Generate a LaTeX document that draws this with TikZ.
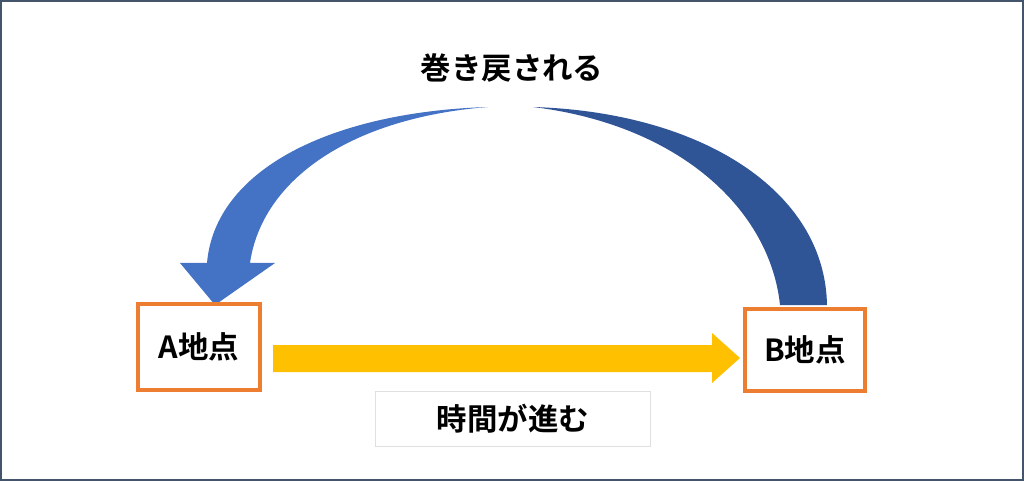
\documentclass[tikz,border=0pt]{standalone}
\usepackage{fontspec}
\newfontfamily\cjk{Noto Sans CJK JP}[BoldFont={Noto Sans CJK JP Bold}]
\begin{document}
\begin{tikzpicture}[x=0.03cm,y=-0.03cm,
  place/.style={draw=orange!85!red,line width=3.5pt,fill=white,font=\cjk\bfseries\fontsize{26}{30}\selectfont,inner sep=0},
  lbl/.style={font=\cjk\bfseries\fontsize{26}{30}\selectfont}]
\definecolor{orng}{HTML}{ED7D31}
\definecolor{lblue}{HTML}{4472C4}
\definecolor{dblue}{HTML}{2F5597}
\definecolor{yel}{HTML}{FFC000}
\useasboundingbox (0,0) rectangle (1024,481);
\draw[color={rgb,255:red,68;green,84;blue,106},line width=1.2pt] (1,1) rectangle (1023,480);
% curved arrows
\fill[lblue] (488,107) .. controls (330,112) and (215,170) .. (207,263)
  -- (180,263) -- (215,305) -- (275,263) -- (250,263)
  .. controls (262,180) and (350,118) .. (488,107) -- cycle;
\fill[dblue] (533,107) .. controls (700,112) and (825,190) .. (827,305)
  -- (780,305) .. controls (770,210) and (680,125) .. (533,107) -- cycle;
% yellow arrow
\fill[yel] (273,345) -- (712,345) -- (712,333) -- (740,358) -- (712,383) -- (712,372) -- (273,372) -- cycle;
\node[place,draw=orng,minimum width=104pt,minimum height=74pt] (A) at (199,347) {A地点};
\node[place,draw=orng,minimum width=102pt,minimum height=70pt] (B) at (805,350) {B地点};
\node[lbl] (T) at (512,68) {巻き戻される};
\node[lbl,draw=black!12,line width=0.5pt,minimum width=235pt,minimum height=47pt] (L) at (513,419) {時間が進む};
\end{tikzpicture}
\end{document}
